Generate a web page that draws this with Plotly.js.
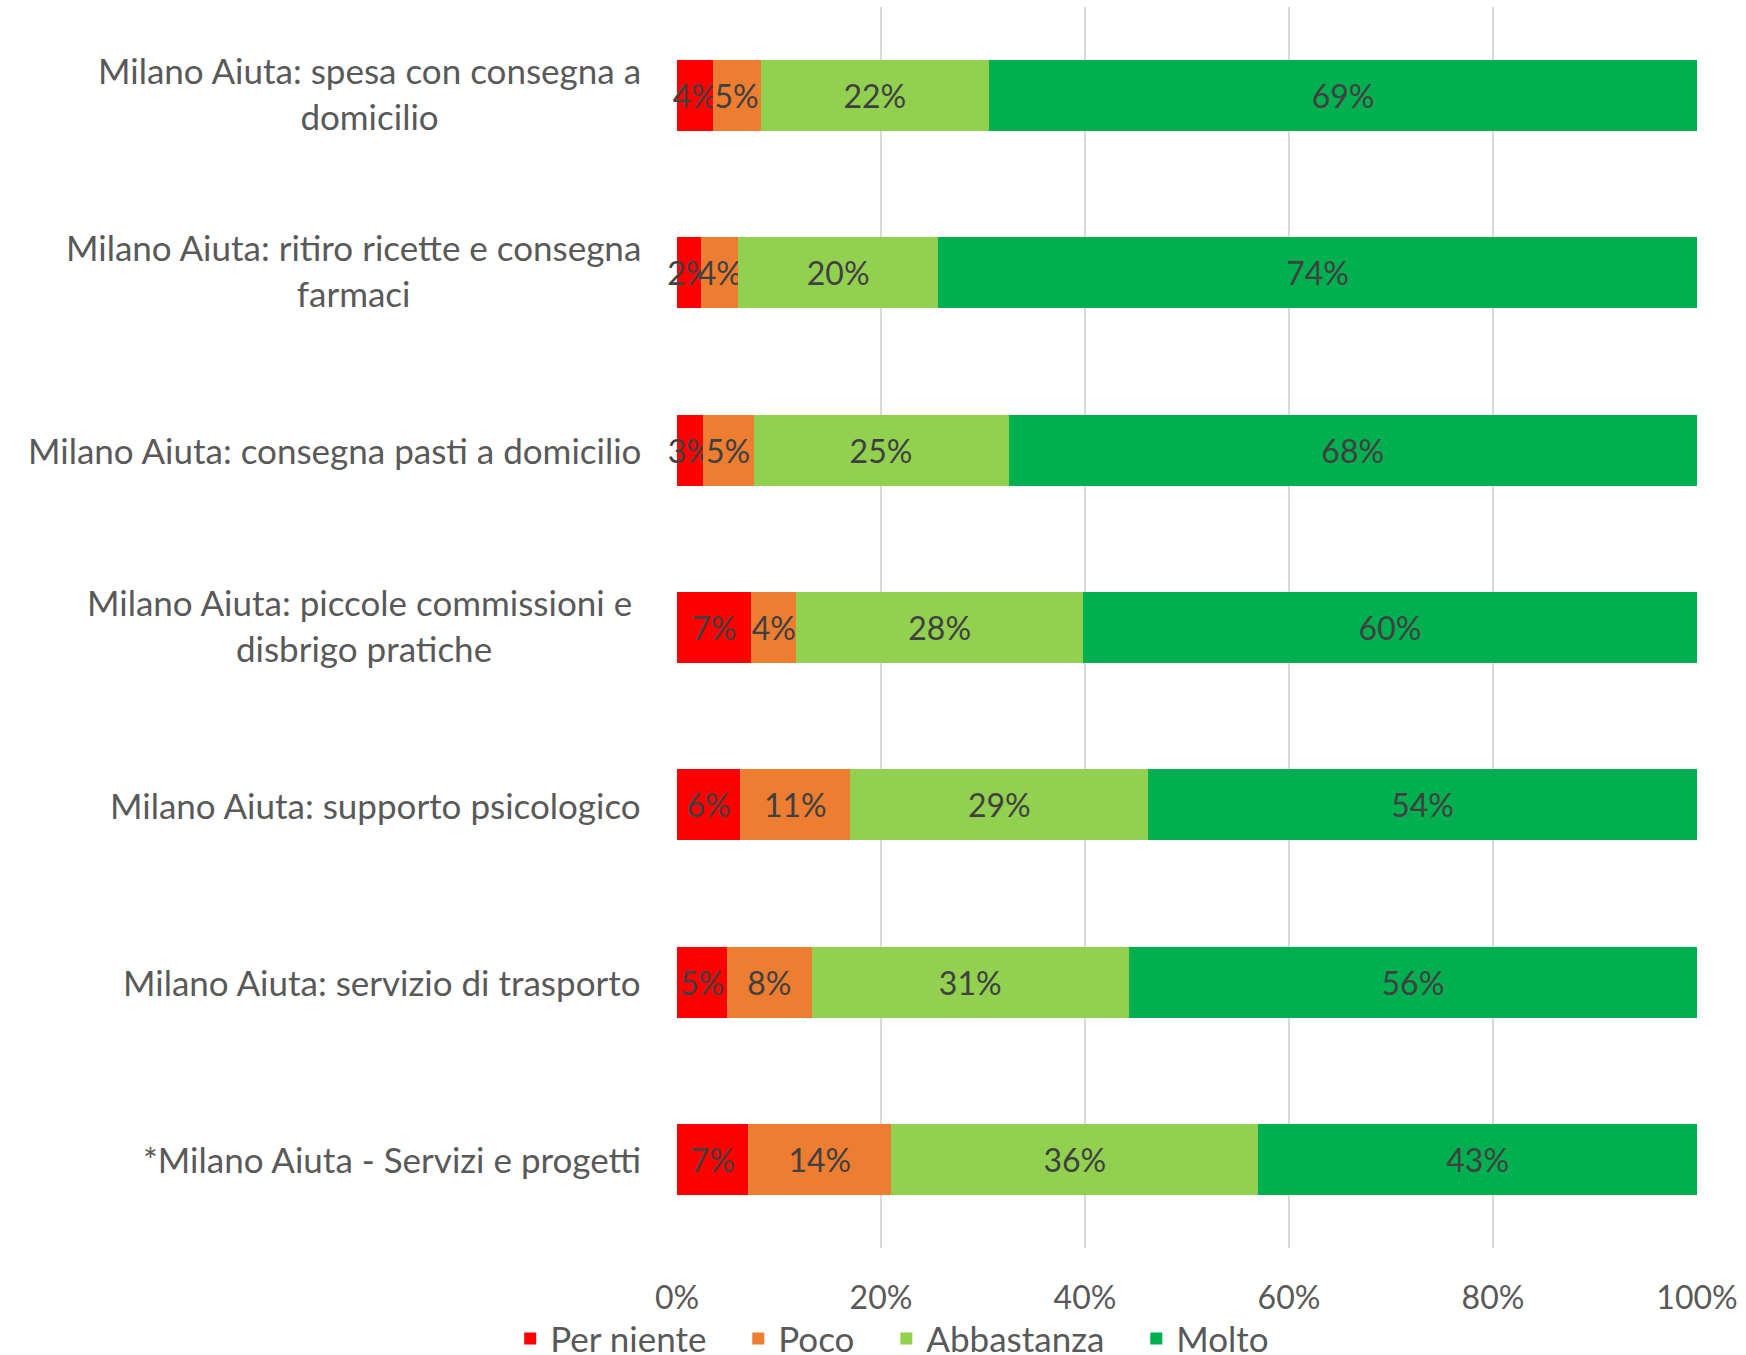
<!DOCTYPE html>
<html>
<head>
<meta charset="utf-8">
<script src="https://cdn.plot.ly/plotly-3.0.1.min.js"></script>
<style>html,body{margin:0;padding:0;background:#fff;}</style>
</head>
<body>
<div id="chart" style="width:1746px;height:1355px;"></div>
<script>
const categories = [
  "Milano Aiuta: spesa con consegna a<br>domicilio",
  "Milano Aiuta: ritiro ricette e consegna<br>farmaci",
  "Milano Aiuta: consegna pasti a domicilio",
  "Milano Aiuta: piccole commissioni e&nbsp;<br>disbrigo pratiche",
  "Milano Aiuta: supporto psicologico",
  "Milano Aiuta: servizio di trasporto",
  "*Milano Aiuta - Servizi e progetti"
];
const seriesNames = ["Per niente", "Poco", "Abbastanza", "Molto"];
const perNiente  = [3.5, 2.4, 2.5, 7.3, 6.2, 4.9, 7.0];
const poco       = [4.7, 3.6, 5.0, 4.4, 10.8, 8.3, 14.0];
const abbastanza = [22.4, 19.6, 25.0, 28.1, 29.2, 31.1, 36.0];
const molto      = [69.4, 74.4, 67.5, 60.2, 53.8, 55.7, 43.0];
const tickValues = [0, 20, 40, 60, 80, 100];
const tickLabels = ["0%", "20%", "40%", "60%", "80%", "100%"];

const colors = ["#FF0000", "#ED7D31", "#92D050", "#00B050"];
const FONT = "Lato, 'Open Sans', sans-serif";
const seriesValues = [perNiente, poco, abbastanza, molto];
const legendPad = "\u00A0\u00A0\u00A0";

const traces = seriesValues.map((vals, i) => ({
  type: "bar",
  orientation: "h",
  name: seriesNames[i] + (i < seriesNames.length - 1 ? legendPad : ""),
  y: categories,
  x: vals,
  text: vals.map(v => Math.round(v) + "%"),
  textposition: "inside",
  insidetextanchor: "middle",
  constraintext: "none",
  textangle: 0,
  cliponaxis: false,
  textfont: {family: FONT, size: 32, color: "#404040"},
  marker: {color: colors[i], line: {width: 0}},
  hoverinfo: "skip"
}));

const annotations = categories.map(c => ({
  xref: "paper", yref: "y",
  x: -0.033, y: c,
  xanchor: "right", yanchor: "middle",
  yshift: c.indexOf("<br>") >= 0 ? 3 : 0,
  align: "center",
  text: c,
  showarrow: false,
  font: {family: FONT, size: 35, color: "#595959"}
}));

const layout = {
  width: 1746, height: 1355,
  margin: {l: 677, r: 49, t: 7, b: 107, pad: 0},
  paper_bgcolor: "#ffffff",
  plot_bgcolor: "#ffffff",
  barmode: "stack",
  bargap: 0.6,
  uniformtext: {mode: "show", minsize: 32},
  showlegend: true,
  legend: {
    orientation: "h",
    xref: "container", yref: "container",
    x: 0.511, xanchor: "center",
    y: 0.012, yanchor: "middle",
    bgcolor: "rgba(0,0,0,0)",
    traceorder: "normal",
    font: {family: FONT, size: 35, color: "#595959"},
    itemclick: false
  },
  xaxis: {
    range: [0, 100],
    tickvals: tickValues,
    ticktext: tickLabels,
    showgrid: true,
    gridcolor: "#D9D9D9",
    gridwidth: 2,
    zeroline: false,
    showline: false,
    ticks: "",
    ticklabelstandoff: 28,
    tickfont: {family: FONT, size: 32, color: "#595959"},
    fixedrange: true
  },
  yaxis: {
    type: "category",
    categoryorder: "array",
    categoryarray: categories,
    autorange: "reversed",
    showticklabels: false,
    showgrid: false,
    zeroline: false,
    showline: false,
    ticks: "",
    fixedrange: true
  },
  annotations: annotations
};

Plotly.newPlot("chart", traces, layout, {displayModeBar: false, staticPlot: true});
</script>
</body>
</html>
